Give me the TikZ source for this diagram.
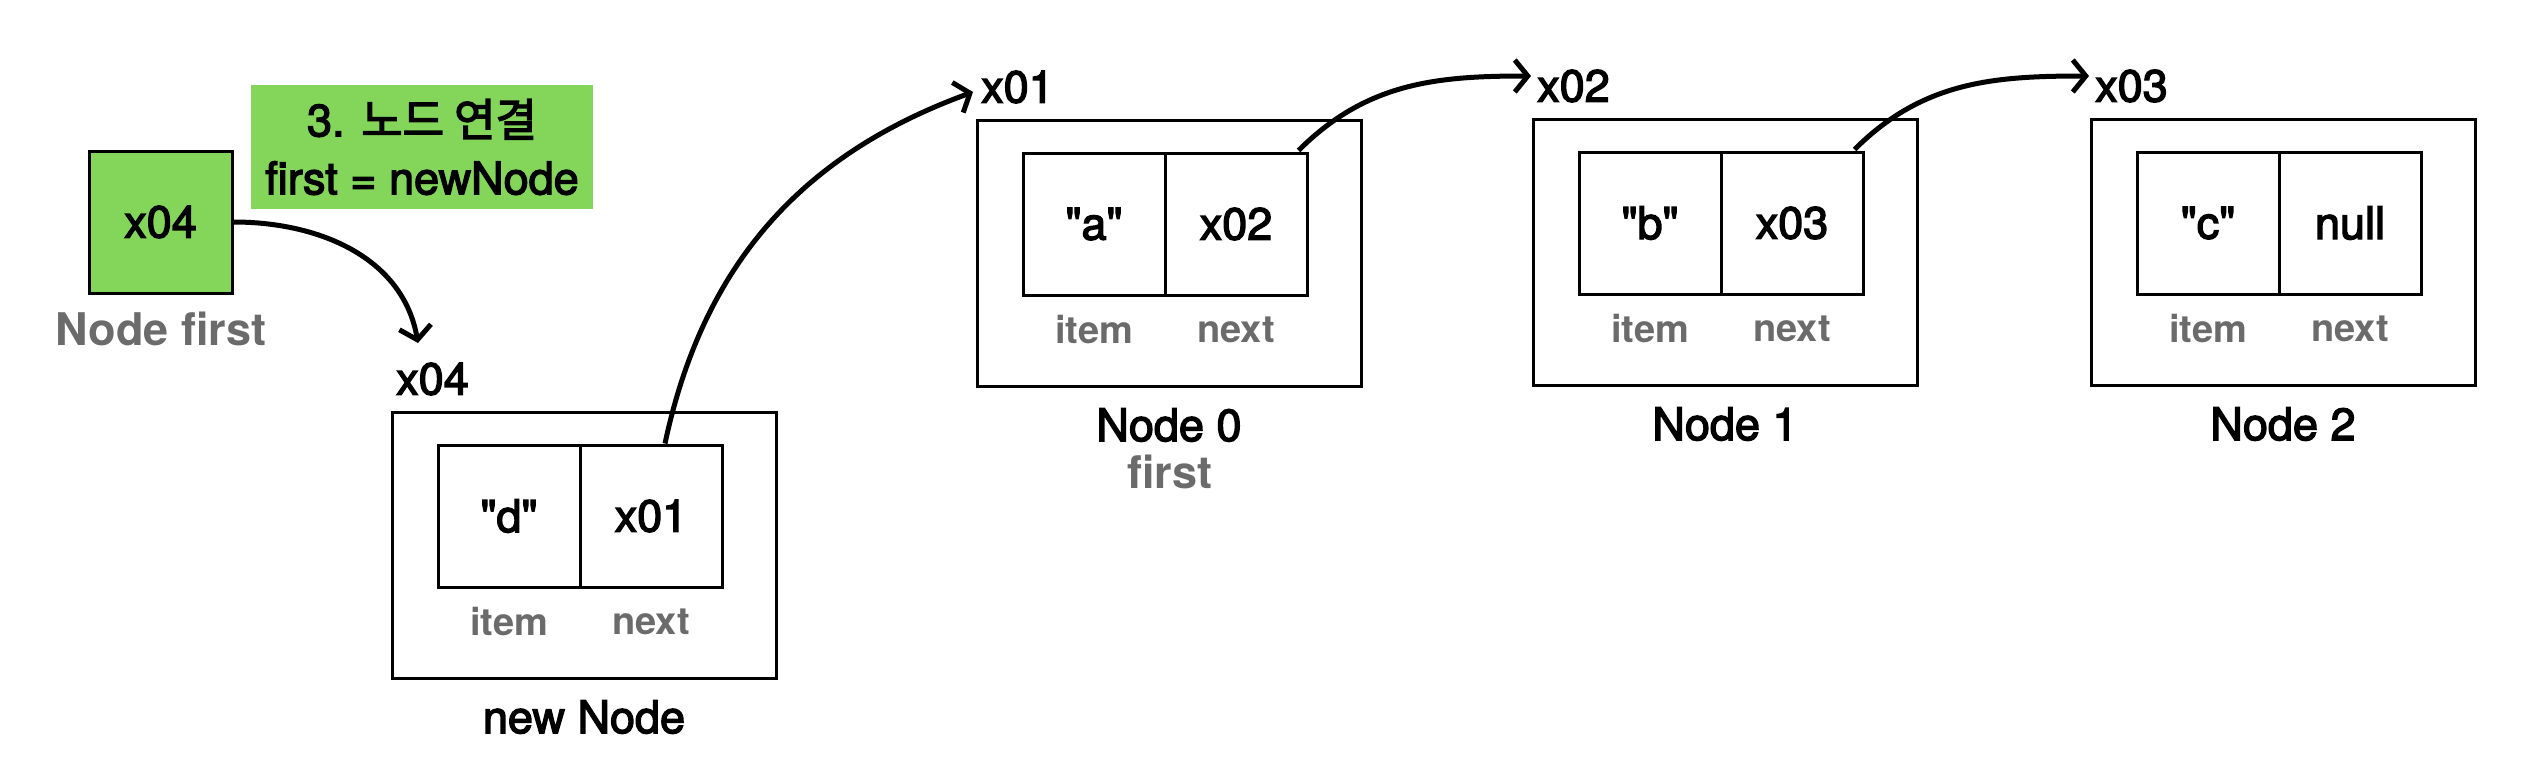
\documentclass[tikz,border=0pt]{standalone}
\usepackage{fontspec}
\setmainfont{TeX Gyre Heros}
\newfontfamily\medfont[FakeBold=3]{TeX Gyre Heros}
\newfontfamily\cjk[FakeBold=3]{Noto Sans CJK KR}
\usetikzlibrary{arrows.meta}
\definecolor{lgreen}{HTML}{83D65A}
\definecolor{lblgray}{HTML}{6B6B6B}
\tikzset{
  outerbox/.style={draw, line width=3pt, minimum width=384pt, minimum height=266pt, inner sep=0pt},
  cell/.style={draw, line width=3pt, minimum width=142pt, minimum height=142pt, inner sep=0pt, font=\medfont\fontsize{45}{54}\selectfont},
  fieldlbl/.style={inner sep=0pt, text=lblgray, font=\bfseries\fontsize{38}{46}\selectfont},
  addr/.style={inner sep=0pt, anchor=west, font=\medfont\fontsize{45}{54}\selectfont},
  nodelbl/.style={inner sep=0pt, font=\medfont\fontsize{45}{54}\selectfont},
  graylbl/.style={inner sep=0pt, text=lblgray, font=\bfseries\fontsize{45}{54}\selectfont},
  arr/.style={line width=5pt, -{Straight Barb[length=13pt,width=32pt]}},
}
\newcommand\mkllnode[7]{%
  \node[outerbox] (#1) at (#2+192, #3+133) {};
  \node[cell] (#1i) at (#2+117, #3+104) {#4};
  \node[cell] (#1n) at (#2+259, #3+104) {#5};
  \node[fieldlbl] (#1il) at (#2+117, #3+210) {item};
  \node[fieldlbl] (#1nl) at (#2+259, #3+210) {next};
  \node[addr] (#1a) at (#2+4, #3-33) {#6};
  \node[nodelbl] (#1l) at (#2+192, #3+305) {#7};
}
\begin{document}
\begin{tikzpicture}[x=1pt, y=-1pt]
\useasboundingbox (0,0) rectangle (2548,774);
% first pointer
\node[draw, line width=3pt, fill=lgreen, minimum width=143pt, minimum height=142pt, inner sep=0pt,
      font=\medfont\fontsize{45}{54}\selectfont] (fbox) at (160.5,222) {x04};
\node[graylbl] (flbl) at (161,329) {Node first};
\node[fill=lgreen, minimum width=342pt, minimum height=124pt, inner sep=0pt, align=center,
      font=\medfont\fontsize{45}{58}\selectfont] (step3) at (422,147)
      {3. {\cjk 노드 연결}\\first = newNode};
% nodes
\mkllnode{nw}{392}{412}{"d"}{x01}{x04}{new Node}
\mkllnode{na}{977}{120}{"a"}{x02}{x01}{Node 0}
\mkllnode{nb}{1533}{119}{"b"}{x03}{x02}{Node 1}
\mkllnode{nc}{2091}{119}{"c"}{null}{x03}{Node 2}
\node[graylbl] (nafirst) at (1170,472) {first};
% arrows
\coordinate (t4) at (418,343);
\draw[arr] (fbox.east) to[out=0, in=100] (t4);
\draw[arr] ([xshift=14pt]nwn.north) to[out=78, in=200] ([xshift=-8pt,yshift=-5pt]naa.west);
\draw[arr] ([xshift=-10pt,yshift=1pt]nan.north east) to[out=45, in=180] ([xshift=-6pt,yshift=10pt]nba.west);
\draw[arr] ([xshift=-10pt,yshift=1pt]nbn.north east) to[out=45, in=180] ([xshift=-6pt,yshift=10pt]nca.west);
\end{tikzpicture}
\end{document}
